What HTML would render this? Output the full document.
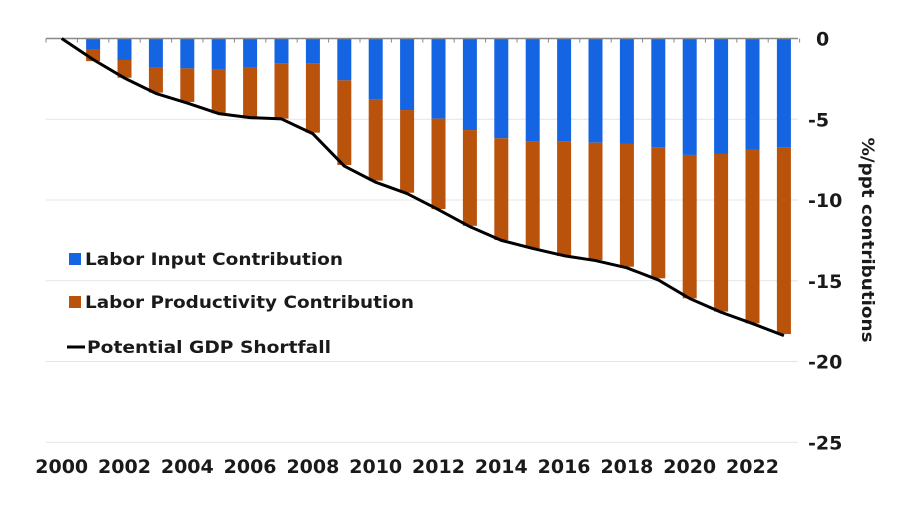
<!DOCTYPE html>
<html><head><meta charset="utf-8"><style>
body{margin:0;background:#fff;}
svg text{font-family:"DejaVu Sans","Liberation Sans",sans-serif;font-weight:bold;fill:#1a1a1a;}
</style></head><body>
<svg id="chart" width="911" height="522" viewBox="0 0 911 522" xmlns="http://www.w3.org/2000/svg">
<g id="grid"></g><g id="bars"></g><g id="axes"></g><g id="lineg"></g>
<g>
  <g>
    <rect x="69" y="253" width="12" height="12" fill="#1565e3"/>
    <text x="85" y="265" font-size="17" textLength="258" lengthAdjust="spacingAndGlyphs">Labor Input Contribution</text>
  </g>
  <g>
    <rect x="69" y="296" width="12" height="12" fill="#b9520b"/>
    <text x="85" y="308" font-size="17" textLength="329" lengthAdjust="spacingAndGlyphs">Labor Productivity Contribution</text>
  </g>
  <g>
    <line x1="67" y1="347" x2="85" y2="347" stroke="#000" stroke-width="3"/>
    <text x="87" y="353" font-size="17" textLength="244" lengthAdjust="spacingAndGlyphs">Potential GDP Shortfall</text>
  </g>
</g>
<text font-size="17" transform="translate(862,240) rotate(90)" text-anchor="middle" textLength="205" lengthAdjust="spacingAndGlyphs">%/ppt contributions</text>
</svg>
<script>
const years=[2001,2002,2003,2004,2005,2006,2007,2008,2009,2010,2011,2012,2013,2014,2015,2016,2017,2018,2019,2020,2021,2022,2023];
const laborInput=[-0.65,-1.33,-1.8,-1.85,-1.89,-1.8,-1.54,-1.54,-2.59,-3.77,-4.43,-4.96,-5.67,-6.18,-6.35,-6.39,-6.45,-6.53,-6.74,-7.21,-7.15,-6.9,-6.74];
const totalBar=[-1.4,-2.43,-3.35,-3.93,-4.63,-4.88,-4.96,-5.83,-7.83,-8.8,-9.55,-10.56,-11.6,-12.48,-12.99,-13.47,-13.72,-14.13,-14.85,-16.09,-16.91,-17.64,-18.3];
const lineYears=[2000,2001,2002,2003,2004,2005,2006,2007,2008,2009,2010,2011,2012,2013,2014,2015,2016,2017,2018,2019,2020,2021,2022,2023];
const shortfall=[0,-1.3,-2.45,-3.4,-4.0,-4.65,-4.9,-4.98,-5.9,-7.9,-8.9,-9.6,-10.6,-11.65,-12.5,-13.0,-13.45,-13.75,-14.2,-14.95,-16.1,-16.95,-17.65,-18.4];
const yTicks=[0,-5,-10,-15,-20,-25];
const xTickLabels=[2000,2002,2004,2006,2008,2010,2012,2014,2016,2018,2020,2022];
const NS="http://www.w3.org/2000/svg";
const X=y=>61.7+(y-2000)*31.4;
const Y=v=>38.5-v*16.15;
function mk(t,a,p){const e=document.createElementNS(NS,t);for(const k in a)e.setAttribute(k,a[k]);p.appendChild(e);return e;}
const grid=document.getElementById('grid'),bars=document.getElementById('bars'),axes=document.getElementById('axes'),lg=document.getElementById('lineg');
yTicks.forEach(v=>{
  if(v!==0){const g=mk('line',{x1:46,x2:798,y1:Y(v),y2:Y(v),stroke:'#e4e4e4','stroke-width':1},grid);
  
  }
  const t=mk('text',{x:v===0?816:808,y:Y(v)+7,'font-size':19},axes);t.textContent=v===0?'0':String(v);
  
  
});
years.forEach((yr,i)=>{
  const cx=X(yr),w=14;
  const b=mk('rect',{x:cx-w/2,y:Y(0),width:w,height:Y(laborInput[i])-Y(0),fill:'#1565e3'},bars);
  
  
  const o=mk('rect',{x:cx-w/2,y:Y(laborInput[i]),width:w,height:Y(totalBar[i])-Y(laborInput[i]),fill:'#b9520b'},bars);
  
  
});
const ax=mk('line',{x1:46,x2:798,y1:Y(0),y2:Y(0),stroke:'#888','stroke-width':1.5},axes);


for(let yr=2000;yr<=2024;yr++){
  const tk=mk('line',{x1:X(yr)-15.7,x2:X(yr)-15.7,y1:Y(0),y2:Y(0)+4,stroke:'#888','stroke-width':1},axes);
  
  
}
xTickLabels.forEach(yr=>{
  const t=mk('text',{x:X(yr),y:473,'font-size':19,'text-anchor':'middle'},axes);t.textContent=yr;
  
  
});
const pts=lineYears.map((yr,i)=>X(yr)+','+Y(shortfall[i])).join(' ');
const pl=mk('polyline',{points:pts,fill:'none',stroke:'#000','stroke-width':3,'stroke-linejoin':'round'},lg);


</script>
</body></html>
